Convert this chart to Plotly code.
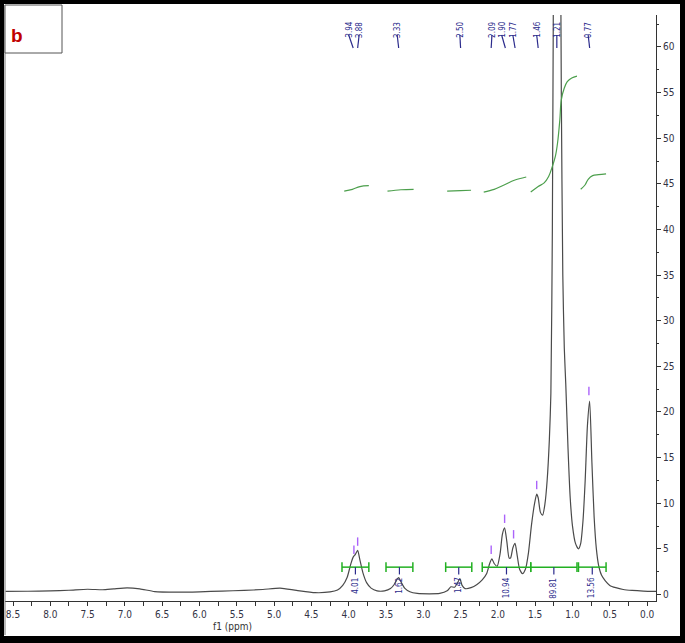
import plotly.graph_objects as go

# 1H NMR spectrum (f1, ppm)
ppm = [8.60, 8.30, 8.00, 7.75, 7.50, 7.30, 7.15, 6.97, 6.80, 6.60, 6.30, 6.00, 5.70, 5.40, 5.15,
       4.92, 4.70, 4.45, 4.25, 4.15, 4.08, 4.02, 3.97, 3.94, 3.91, 3.88, 3.85, 3.81, 3.76, 3.70,
       3.62, 3.52, 3.44, 3.39, 3.35, 3.33, 3.30, 3.25, 3.18, 3.08, 2.92, 2.78, 2.68, 2.63, 2.58,
       2.54, 2.51, 2.48, 2.44, 2.36, 2.28, 2.21, 2.15, 2.11, 2.08, 2.05, 2.01, 1.97, 1.94, 1.91,
       1.88, 1.85, 1.83, 1.80, 1.77, 1.74, 1.71, 1.67, 1.63, 1.59, 1.55, 1.51, 1.48, 1.46, 1.43,
       1.40, 1.37, 1.34, 1.31, 1.29, 1.27, 1.25, 1.23, 1.21, 1.19, 1.17, 1.15, 1.13, 1.11, 1.09,
       1.06, 1.03, 1.00, 0.96, 0.92, 0.89, 0.86, 0.83, 0.80, 0.77, 0.74, 0.71, 0.68, 0.65, 0.61,
       0.56, 0.50, 0.42, 0.32, 0.20, 0.05, -0.17]
intensity = [0.35, 0.36, 0.40, 0.47, 0.58, 0.52, 0.62, 0.73, 0.62, 0.32, 0.26, 0.30, 0.38, 0.45, 0.55,
             0.70, 0.45, 0.20, 0.28, 0.50, 1.00, 1.90, 3.40, 4.10, 4.40, 4.85, 3.80, 2.40, 1.30, 0.70,
             0.40, 0.40, 0.65, 1.10, 1.70, 1.85, 1.40, 0.70, 0.30, 0.12, 0.08, 0.12, 0.40, 0.85, 0.80,
             1.30, 1.75, 1.00, 0.65, 0.75, 1.10, 1.60, 2.30, 3.40, 3.90, 3.40, 3.10, 4.50, 6.60, 7.30,
             5.80, 4.00, 4.00, 5.10, 5.60, 4.20, 2.80, 2.30, 2.80, 4.60, 7.60, 9.90, 11.0, 10.6, 9.0,
             8.70, 9.90, 12.5, 17.0, 22.0, 40.0, 80.0, 120.0, 140.0, 130.0, 90.0, 55.0, 35.0, 27.0, 23.0,
             16.0, 10.5, 7.5, 5.6, 5.0, 5.6, 8.0, 12.5, 18.5, 21.2, 14.5, 8.5, 5.0, 3.2, 2.1,
             1.5, 1.0, 0.75, 0.55, 0.45, 0.38, 0.33]

# integral curves (one list per region)
integral_x = [[4.06, 3.95, 3.85, 3.73],
              [3.48, 3.30, 3.13],
              [2.68, 2.50, 2.36],
              [2.19, 2.05, 1.91, 1.78, 1.62],
              [1.56, 1.46, 1.38, 1.32, 1.27, 1.23, 1.20, 1.17, 1.15, 1.11, 1.07, 1.01, 0.94],
              [0.89, 0.83, 0.79, 0.73, 0.65, 0.55]]
integral_y = [[44.2, 44.4, 44.7, 44.8],
              [44.2, 44.35, 44.4],
              [44.2, 44.25, 44.3],
              [44.1, 44.4, 44.9, 45.4, 45.75],
              [44.1, 44.7, 45.1, 45.8, 46.9, 48.0, 49.5, 52.0, 54.2, 55.5, 56.2, 56.6, 56.8],
              [44.4, 44.9, 45.5, 45.9, 46.0, 46.1]]

# integration regions
int_start = [4.09, 3.50, 2.70, 2.21, 1.56, 0.92]
int_end = [3.73, 3.14, 2.35, 1.56, 0.94, 0.55]
int_values = ["4.01", "1.62", "1.47", "10.94", "89.81", "13.56"]
int_level = 3.0

# peak picking
peak_ppm = [3.94, 3.88, 3.33, 2.50, 2.09, 1.90, 1.77, 1.46, 1.21, 0.77]
peak_label_pos = [4.00, 3.86, 3.35, 2.51, 2.08, 1.95, 1.80, 1.48, 1.21, 0.79]
peak_text = ["3.94", "3.88", "3.33", "2.50", "2.09", "1.90", "1.77", "1.46", "1.21", "0.77"]
marker_ppm = [3.93, 3.88, 2.09, 1.91, 1.79, 1.48, 0.78]
marker_y = [4.9, 5.8, 4.9, 8.3, 6.6, 12.0, 22.3]

x_ticks = [8.5, 8.0, 7.5, 7.0, 6.5, 6.0, 5.5, 5.0, 4.5, 4.0, 3.5, 3.0, 2.5, 2.0, 1.5, 1.0, 0.5, 0.0]
y_ticks = [0, 5, 10, 15, 20, 25, 30, 35, 40, 45, 50, 55, 60]

W, H = 685, 643
ML, MR, MT, MB = 5, 29, 15, 42
PW, PH = W - ML - MR, H - MT - MB
PPM_PX = 74.6


def px(x):
    return (x - ML) / PW


def py(y):
    return (H - MB - y) / PH


fig = go.Figure()

fig.add_trace(go.Scatter(x=ppm, y=intensity, mode="lines",
                         line=dict(color="#4a4a4a", width=1.2, shape="spline", smoothing=0.6),
                         hoverinfo="skip"))

for xs, ys in zip(integral_x, integral_y):
    fig.add_trace(go.Scatter(x=xs, y=ys, mode="lines",
                             line=dict(color="#4c9f4c", width=1.2, shape="spline"),
                             hoverinfo="skip"))

for s, e in zip(int_start, int_end):
    fig.add_trace(go.Scatter(x=[s, e], y=[int_level, int_level], mode="lines+markers",
                             line=dict(color="#22b022", width=1.5),
                             marker=dict(symbol="line-ns-open", size=7,
                                         line=dict(color="#22b022", width=1.5)),
                             hoverinfo="skip"))

fig.add_trace(go.Scatter(x=marker_ppm, y=marker_y, mode="markers",
                         marker=dict(symbol="line-ns-open", size=6,
                                     line=dict(color="#2b2b8c", width=1.4)),
                         hoverinfo="skip"))

shapes = []
annotations = []
label_font = dict(size=8, color="#2b2b8c", family="Liberation Sans Narrow, DejaVu Sans Condensed")

# integral value labels under the bars
for s, e, v in zip(int_start, int_end, int_values):
    c = (s + e) / 2
    shapes.append(dict(type="line", xref="x", yref="y", x0=c, x1=c, y0=int_level, y1=2.2,
                       line=dict(color="#2b2b8c", width=1.2)))
    annotations.append(dict(x=c, y=2.1, xref="x", yref="y", text=v, textangle=-90,
                            showarrow=False, yanchor="top", font=label_font))

# peak labels along the top
for lp, pp, t in zip(peak_label_pos, peak_ppm, peak_text):
    annotations.append(dict(x=lp, y=py(20), xref="x", yref="paper", text=t, textangle=-90,
                            showarrow=False, yanchor="top", font=label_font))
    shapes.append(dict(type="line", xref="x", yref="paper", x0=lp, x1=pp, y0=py(35), y1=py(48),
                       line=dict(color="#2b2b8c", width=1.2)))

# frame, corner box and letter
black = "#000000"
shapes += [
    dict(type="rect", xref="paper", yref="paper", x0=px(0), x1=px(4), y0=py(H), y1=py(0),
         fillcolor=black, line_width=0, layer="above"),
    dict(type="rect", xref="paper", yref="paper", x0=px(0), x1=px(W), y0=py(4), y1=py(0),
         fillcolor=black, line_width=0, layer="above"),
    dict(type="rect", xref="paper", yref="paper", x0=px(680), x1=px(W), y0=py(H), y1=py(0),
         fillcolor=black, line_width=0, layer="above"),
    dict(type="rect", xref="paper", yref="paper", x0=px(0), x1=px(W), y0=py(H), y1=py(636),
         fillcolor=black, line_width=0, layer="above"),
    dict(type="line", xref="paper", yref="paper", x0=px(5), x1=px(5), y0=py(635), y1=py(5),
         line=dict(color="#777777", width=1)),
    dict(type="rect", xref="paper", yref="paper", x0=px(5), x1=px(62), y0=py(53), y1=py(5),
         fillcolor="white", line=dict(color="#555555", width=1), layer="above"),
]
annotations.append(dict(x=px(17), y=py(36), xref="paper", yref="paper", text="<b>b</b>",
                        xanchor="center", yanchor="middle", showarrow=False,
                        font=dict(size=19, color="#c00000", family="Arial, Liberation Sans")))
annotations.append(dict(x=px(232), y=py(626), xref="paper", yref="paper", text="f1 (ppm)",
                        xanchor="center", yanchor="middle", showarrow=False,
                        font=dict(size=10, color="#333333", family="Liberation Sans Narrow, DejaVu Sans Condensed")))

tick_font = dict(size=10, color="#333344", family="Liberation Sans Narrow, DejaVu Sans Condensed")

fig.update_layout(
    width=W, height=H,
    margin=dict(l=ML, r=MR, t=MT, b=MB),
    paper_bgcolor="white", plot_bgcolor="white",
    showlegend=False,
    shapes=shapes, annotations=annotations,
    xaxis=dict(range=[8.5 + (13 - ML) / PPM_PX, 8.5 - (W - MR - 13) / PPM_PX],
               tickvals=x_ticks, ticktext=[f"{v:.1f}" for v in x_ticks],
               ticks="outside", ticklen=4, tickcolor="#333333", tickwidth=1,
               minor=dict(dtick=0.25, tick0=0, ticks="outside", ticklen=4, tickcolor="#333333"),
               showline=True, linecolor="#333333", linewidth=1,
               showgrid=False, zeroline=False, tickfont=tick_font),
    yaxis=dict(range=[-0.71, 63.5], side="right", tickvals=y_ticks,
               ticks="outside", ticklen=4, tickcolor="#333333",
               minor=dict(dtick=2.5, tick0=0, ticks="outside", ticklen=2, tickcolor="#333333"),
               showline=True, linecolor="#333333", linewidth=1,
               showgrid=False, zeroline=False, tickfont=tick_font),
)

fig.write_html("out.html", config={"displayModeBar": False},
               post_script="document.body.style.margin='0';")
